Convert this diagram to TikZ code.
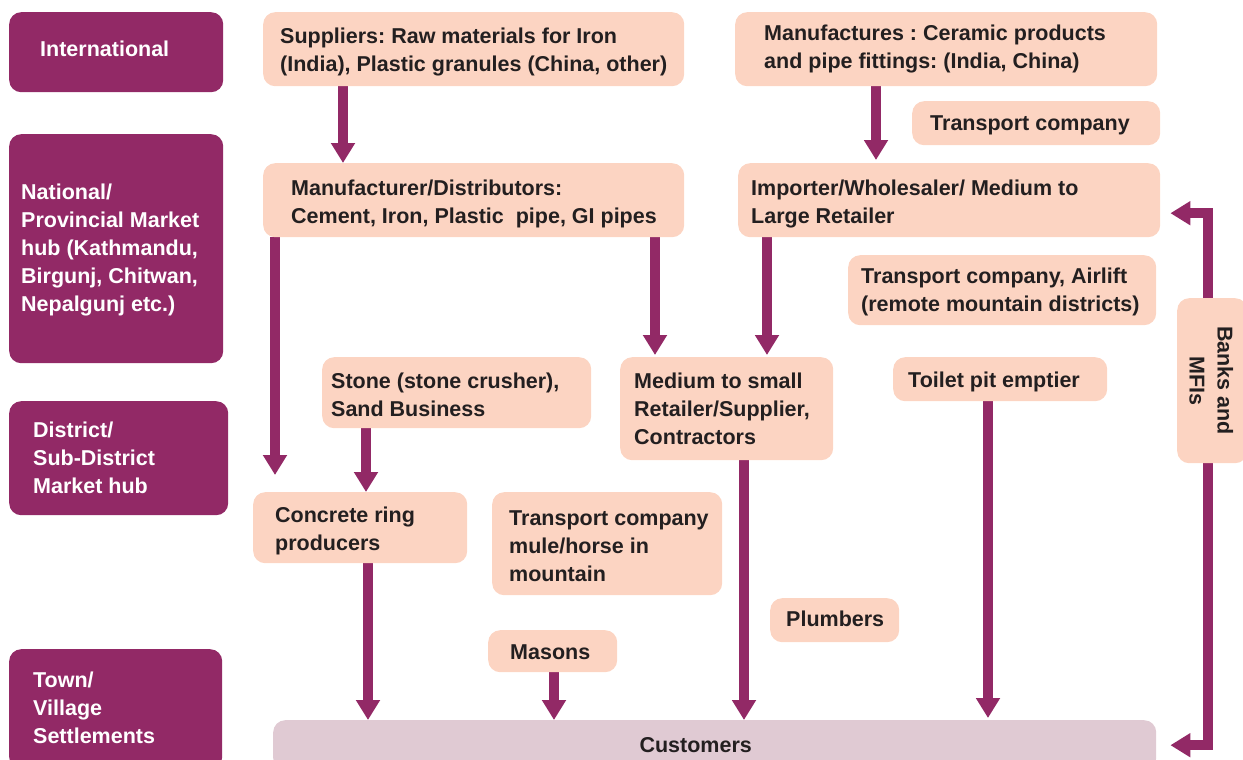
\documentclass[tikz,border=0pt]{standalone}
\usepackage{fontspec}
\setmainfont{Liberation Sans}
\frenchspacing
\usetikzlibrary{arrows.meta,backgrounds}
\definecolor{plum}{RGB}{146,41,102}
\definecolor{peach}{RGB}{252,212,194}
\definecolor{lilac}{RGB}{224,202,211}
\definecolor{ink}{RGB}{35,31,32}
\tikzset{
  lvl/.style={fill=plum, rounded corners=12pt, inner sep=0pt, anchor=north west},
  pbox/.style={fill=peach, rounded corners=12pt, inner sep=0pt, anchor=north west},
  cbox/.style={fill=lilac, rounded corners=12pt, inner sep=0pt, anchor=north west},
  basetxt/.style={font=\bfseries\fontsize{21.5}{28}\selectfont, align=left, inner sep=0pt, anchor=west},
  ltxt/.style={basetxt, text=white},
  ptxt/.style={basetxt, text=ink},
  flow/.style={draw=plum, line width=10pt, -{Triangle[width=23pt,length=20pt]}},
  flowboth/.style={draw=plum, line width=10pt, line join=miter, {Triangle[width=23pt,length=20pt]}-{Triangle[width=23pt,length=20pt]}},
}
\begin{document}
\begin{tikzpicture}[x=1pt,y=1pt]
\useasboundingbox (0,0) rectangle (1243,-760);
\clip (0,0) rectangle (1243,-760);

% level boxes
\node[lvl, minimum width=214pt, minimum height=80pt] (intl) at (9,-12) {};
\node[ltxt] (intlT) at ([xshift=31pt,yshift=3pt]intl.west) {International};
\node[lvl, minimum width=214pt, minimum height=229pt] (natl) at (9,-134) {};
\node[ltxt] (natlT) at ([xshift=12pt,yshift=-1pt]natl.west) {National/\\Provincial Market\\hub (Kathmandu,\\Birgunj, Chitwan,\\Nepalgunj etc.)};
\node[lvl, minimum width=219pt, minimum height=114pt] (dist) at (9,-401) {};
\node[ltxt] (distT) at ([xshift=24pt]dist.west) {District/\\Sub-District\\Market hub};
\node[lvl, minimum width=213pt, minimum height=120pt] (town) at (9,-649) {};
\node[ltxt] (townT) at ([xshift=24pt,yshift=1pt]town.west) {Town/\\Village\\Settlements};

% actor boxes
\node[pbox, minimum width=421pt, minimum height=74pt] (sup) at (263,-12) {};
\node[ptxt] (supT) at ([xshift=17pt,yshift=-3pt]sup.west) {Suppliers: Raw materials for Iron\\(India), Plastic granules (China, other)};
\node[pbox, minimum width=422pt, minimum height=74pt] (manu) at (735,-12) {};
\node[ptxt] (manuT) at ([xshift=29pt]manu.west) {Manufactures : Ceramic products\\and pipe fittings: (India, China)};
\node[pbox, minimum width=248pt, minimum height=44pt] (tra) at (912,-101) {};
\node[ptxt] (traT) at ([xshift=18pt,yshift=-2pt]tra.west) {Transport company};
\node[pbox, minimum width=421pt, minimum height=74pt] (mfr) at (263,-163) {};
\node[ptxt] (mfrT) at ([xshift=28pt,yshift=-4pt]mfr.west) {Manufacturer/Distributors:\\Cement, Iron, Plastic\ \ pipe, GI pipes};
\node[pbox, minimum width=422pt, minimum height=74pt] (imp) at (738,-163) {};
\node[ptxt] (impT) at ([xshift=13pt,yshift=-3.5pt]imp.west) {Importer/Wholesaler/ Medium to\\Large Retailer};
\node[pbox, minimum width=308pt, minimum height=70pt] (trb) at (848,-255) {};
\node[ptxt] (trbT) at ([xshift=13pt,yshift=-2pt]trb.west) {Transport company, Airlift\\(remote mountain districts)};
\node[pbox, minimum width=269pt, minimum height=71pt] (stone) at (322,-357) {};
\node[ptxt] (stoneT) at ([xshift=9pt,yshift=-2pt]stone.west) {Stone (stone crusher),\\Sand Business};
\node[pbox, minimum width=213pt, minimum height=103pt] (med) at (620,-357) {};
\node[ptxt] (medT) at ([xshift=14pt]med.west) {Medium to small\\Retailer/Supplier,\\Contractors};
\node[pbox, minimum width=214pt, minimum height=44pt] (toil) at (893,-357) {};
\node[ptxt] (toilT) at ([xshift=15pt,yshift=-3pt]toil.west) {Toilet pit emptier};
\node[pbox, minimum width=214pt, minimum height=71pt] (conc) at (253,-492) {};
\node[ptxt] (concT) at ([xshift=22pt,yshift=-3pt]conc.west) {Concrete ring\\producers};
\node[pbox, minimum width=230pt, minimum height=103pt] (mule) at (492,-492) {};
\node[ptxt] (muleT) at ([xshift=17pt,yshift=-3pt]mule.west) {Transport company\\mule/horse in\\mountain};
\node[pbox, minimum width=129pt, minimum height=44pt] (plumb) at (770,-598) {};
\node[ptxt] (plumbT) at ([xshift=16pt,yshift=1pt]plumb.west) {Plumbers};
\node[pbox, minimum width=129pt, minimum height=42pt] (mason) at (488,-630) {};
\node[ptxt] (masonT) at ([xshift=22pt,yshift=-1pt]mason.west) {Masons};
\node[cbox, minimum width=883pt, minimum height=50pt] (cust) at (273,-720) {};
\node[ptxt, anchor=center] (custT) at ([xshift=-19pt]cust.center) {Customers};

\coordinate (bankTop) at ([xshift=10pt,yshift=-13pt]imp.east);
\coordinate (bankBot) at ([xshift=14pt]cust.east);

% connectors (behind the boxes)
\begin{pgfonlayer}{background}
\draw[flow] ([xshift=80pt]sup.south west) -- ([xshift=80pt]mfr.north west);
\draw[flow] ([xshift=141pt]manu.south west) -- ([xshift=138pt,yshift=3pt]imp.north west);
\draw[flow] ([xshift=12pt]mfr.south west) -- ([xshift=22pt,yshift=17pt]conc.north west);
\draw[flow] ([xshift=392pt]mfr.south west) -- ([xshift=35pt,yshift=2pt]med.north west);
\draw[flow] ([xshift=29pt]imp.south west) -- ([xshift=147pt,yshift=2pt]med.north west);
\draw[flow] ([xshift=44pt]stone.south west) -- ([xshift=113pt]conc.north west);
\draw[flow] ([xshift=115pt]conc.south west) -- ([xshift=95pt]cust.north west);
\draw[flow] ([xshift=66pt]mason.south west) -- ([xshift=281pt]cust.north west);
\draw[flow] ([xshift=124pt]med.south west) -- ([xshift=471pt]cust.north west);
\draw[flow] ([xshift=95pt]toil.south west) -- ([xshift=715pt,yshift=2pt]cust.north west);
\draw[flowboth] (bankTop) -- ++(38pt,0) |- (bankBot);
\end{pgfonlayer}

% banks box on top of its line
\node[pbox, minimum width=70pt, minimum height=165pt] (banks) at (1177,-298) {};
\node[ptxt, anchor=center, align=center, rotate=-90] (banksT) at ([xshift=-1pt]banks.center) {Banks and\\MFIs};
\end{tikzpicture}
\end{document}
